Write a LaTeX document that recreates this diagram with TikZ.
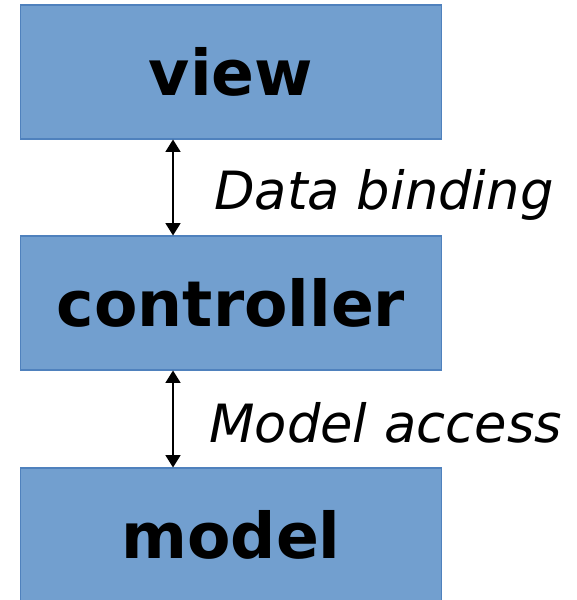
\documentclass[tikz,border=0pt]{standalone}
\usepackage{fontspec}
\setmainfont{DejaVu Sans}
\usetikzlibrary{arrows.meta}

\definecolor{layerfill}{RGB}{114,159,207}
\definecolor{layerborder}{RGB}{79,129,189}

\tikzset{
    mvc layer/.style={
        draw=layerborder,line width=.6pt,
        fill=layerfill,
        minimum width=8.44cm,minimum height=2.68cm,
        font=\bfseries\fontsize{36}{36}\selectfont
    },
    link label/.style={
        anchor=west,inner sep=0pt,
        font=\itshape\fontsize{30}{30}\selectfont
    },
    link/.style={line width=.8pt,{Triangle[width=8.5pt,length=7pt]}-{Triangle[width=8.5pt,length=7pt]}}
}

\begin{document}
\begin{tikzpicture}[x=.02cm,y=-.02cm]
        \useasboundingbox (0,0) rectangle (577,600);
        \clip (0,0) rectangle (577,600);
        \foreach \y/\name in {72/view,303/controller,535/model}
            \node[mvc layer] (\name) at (231,\y) {\name};
        \draw[link] ([xshift=-1.16cm]view.south) -- ([xshift=-1.16cm]controller.north);
        \draw[link] ([xshift=-1.16cm]controller.south) -- ([xshift=-1.16cm]model.north);
        \node[link label] (binding) at (214,195) {Data binding};
        \node[link label] (access) at (209,423) {Model access};
    \end{tikzpicture}
\end{document}
